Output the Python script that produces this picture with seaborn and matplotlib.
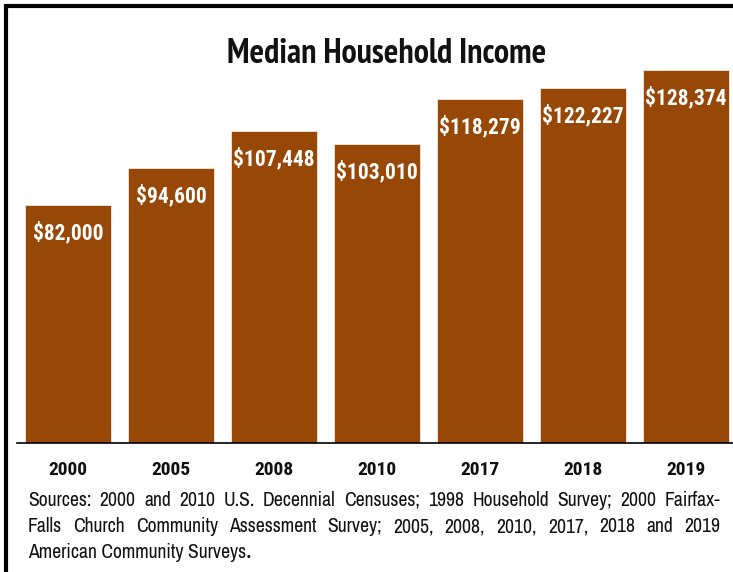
import matplotlib
matplotlib.use("Agg")
import matplotlib.pyplot as plt
import seaborn as sns
import pandas as pd
from matplotlib.patches import Rectangle

years = ["2000", "2005", "2008", "2010", "2017", "2018", "2019"]
income = [82000, 94600, 107448, 103010, 118279, 122227, 128374]
bar_labels = ["$82,000", "$94,600", "$107,448", "$103,010", "$118,279", "$122,227", "$128,374"]
title = "Median Household Income"
source_lines = [
    "Sources: 2000 and 2010 U.S. Decennial Censuses; 1998 Household Survey; 2000 Fairfax-",
    "Falls Church Community Assessment Survey; 2005, 2008, 2010, 2017, 2018 and 2019",
    "American Community Surveys",
]

sns.set_theme(style="white")
plt.rcParams["font.family"] = ["Roboto Condensed", "DejaVu Sans"]
title_font = ["PT Sans Narrow", "DejaVu Sans"]
note_font = ["Archivo Narrow", "DejaVu Sans"]

W, H = 733, 572
fig = plt.figure(figsize=(W / 100, H / 100), dpi=100)
ax = fig.add_axes([16.5 / W, (H - 443) / H, (W - 16.5) / W, 403 / H])

df = pd.DataFrame({"year": years, "income": income})
sns.barplot(data=df, x="year", y="income", color="#974706", saturation=1,
            width=0.83, ax=ax, edgecolor="#f2e6dc", linewidth=0.6)

ax.set_xlim(-0.5, 6.5 - 4.5 / 103)
ax.set_ylim(0, 403 / (373 / 128374))
ax.set_yticks([])
ax.set_xlabel("")
ax.set_ylabel("")
for s in ["top", "right", "left"]:
    ax.spines[s].set_visible(False)
ax.spines["bottom"].set_color("black")
ax.spines["bottom"].set_linewidth(1.2)
ax.tick_params(axis="x", length=0, pad=13)
for t in ax.get_xticklabels():
    t.set_fontsize(14)
    t.set_fontweight("bold")
    t.set_color("#111111")

for p, lab in zip(ax.patches, bar_labels):
    ax.annotate(lab, (p.get_x() + p.get_width() / 2, p.get_height()),
                xytext=(0, -28), textcoords="offset pixels",
                ha="center", va="center", color="white", fontsize=15.5, fontweight="bold")

fig.text(387 / W, 1 - 54 / H, title, ha="center", va="center", fontsize=24.5,
         fontweight="bold", color="#111111", family=title_font)

# justified source note
renderer = fig.canvas.get_renderer()
x0, x1 = 28, 720
ys = [500, 527, 553]
fs = 14.2
for i, (line, yy) in enumerate(zip(source_lines, ys)):
    if i == len(source_lines) - 1:
        t = fig.text(x0 / W, 1 - yy / H, line, ha="left", va="center", fontsize=fs,
                     color="#111111", family=note_font)
        wd = t.get_window_extent(renderer).width
        fig.text((x0 + wd) / W, 1 - yy / H, ".", ha="left", va="center", fontsize=fs,
                 fontweight="bold", color="#111111")
        continue
    words = line.split(" ")
    widths = []
    for w in words:
        t = fig.text(0, 0, w, fontsize=fs, family=note_font)
        widths.append(t.get_window_extent(renderer).width)
        t.remove()
    gap = (x1 - x0 - sum(widths)) / (len(words) - 1)
    xx = x0
    for w, wd in zip(words, widths):
        fig.text(xx / W, 1 - yy / H, w, ha="left", va="center", fontsize=fs,
                 color="#111111", family=note_font)
        xx += wd + gap

fig.patches.append(Rectangle((6 / W, -0.1), 1.2, 1 - 6 / H + 0.1, transform=fig.transFigure,
                             fill=False, edgecolor="black", linewidth=3))

fig.savefig("out.png", dpi=100)
